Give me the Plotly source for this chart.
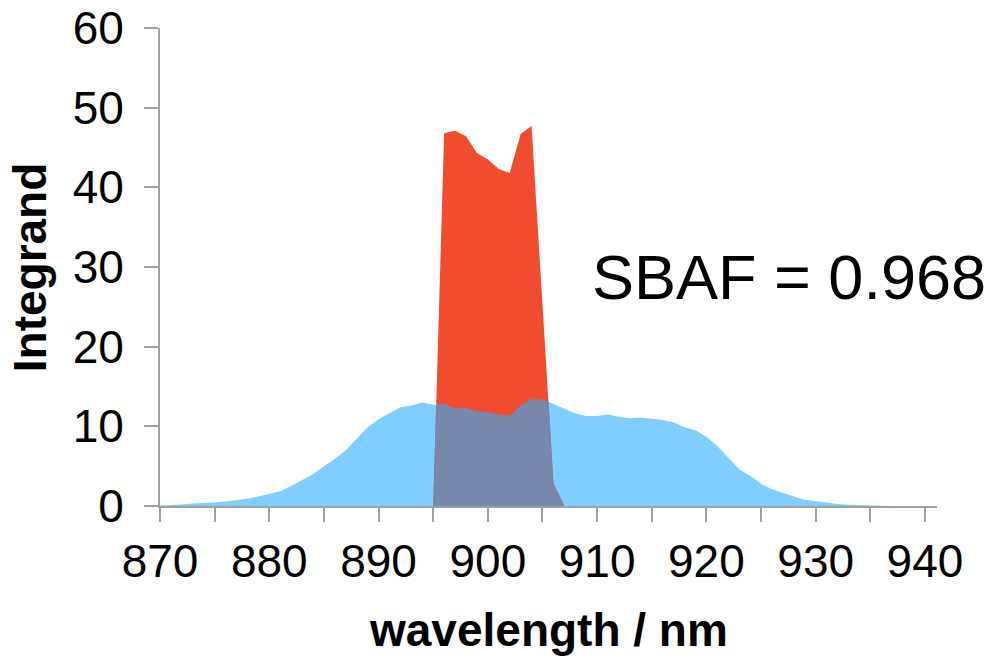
import numpy as np
import plotly.graph_objects as go

# ---------------- data ----------------
wavelength = list(range(870, 941))

blue_integrand = [
    0.05, 0.1, 0.2, 0.3, 0.35, 0.45, 0.55, 0.7, 0.9, 1.2,      # 870-879
    1.5, 1.85, 2.5, 3.2, 4.0, 5.0, 5.9, 7.0, 8.4, 9.9,         # 880-889
    10.9, 11.7, 12.4, 12.6, 13.0, 12.7, 12.8, 12.3, 12.3, 11.9,  # 890-899
    11.8, 11.5, 11.3, 12.6, 13.4, 13.4, 12.8, 12.2, 11.6, 11.3,  # 900-909
    11.3, 11.5, 11.2, 11.0, 11.1, 10.95, 10.8, 10.5, 9.9, 9.5,   # 910-919
    8.7, 7.5, 6.1, 4.6, 3.8, 2.8, 2.1, 1.6, 1.2, 0.8,            # 920-929
    0.6, 0.4, 0.25, 0.15, 0.1, 0.05, 0.02, 0.0, 0.0, 0.0,        # 930-939
    0.0,                                                         # 940
]

red_integrand = [0.0] * 25 + [
    0.0, 46.8, 47.1, 46.4, 44.3, 43.5, 42.3, 41.8, 46.7, 47.7,  # 895-904
    26.0, 2.85, 0.0,                                            # 905-907
] + [0.0] * 33

x_ticks = [870, 880, 890, 900, 910, 920, 930, 940]
y_ticks = [0, 10, 20, 30, 40, 50, 60]
sbaf_text = "SBAF = 0.968"
x_title = "wavelength / nm"
y_title = "Integrand"

# ---------------- overlap (min of two piecewise-linear curves) ----------------
def piecewise_min(x, a, b):
    xs, ys = [], []
    for i in range(len(x)):
        xs.append(x[i]); ys.append(min(a[i], b[i]))
        if i < len(x) - 1:
            d0 = a[i] - b[i]
            d1 = a[i + 1] - b[i + 1]
            if d0 * d1 < 0:
                t = d0 / (d0 - d1)
                xs.append(x[i] + t * (x[i + 1] - x[i]))
                ys.append(a[i] + t * (a[i + 1] - a[i]))
    return xs, ys

ox, oy = piecewise_min(wavelength, blue_integrand, red_integrand)

BLUE = "#7FCEFF"
RED = "#F24C30"
OVER = "#7788AD"
AXIS = "#A0A0A0"
FONT = "Liberation Sans, Arial, sans-serif"

fig = go.Figure()
fig.add_trace(go.Scatter(x=wavelength, y=blue_integrand, mode="lines",
                         line=dict(width=0, color=BLUE), fill="tozeroy",
                         fillcolor=BLUE, hoverinfo="skip", showlegend=False))
fig.add_trace(go.Scatter(x=wavelength, y=red_integrand, mode="lines",
                         line=dict(width=0, color=RED), fill="tozeroy",
                         fillcolor=RED, hoverinfo="skip", showlegend=False))
fig.add_trace(go.Scatter(x=ox, y=oy, mode="lines",
                         line=dict(width=0, color=OVER), fill="tozeroy",
                         fillcolor=OVER, hoverinfo="skip", showlegend=False))

fig.add_annotation(x=927.6, y=28.8, xref="x", yref="y", text=sbaf_text,
                   showarrow=False, font=dict(family=FONT, size=63, color="black"),
                   xanchor="center", yanchor="middle")

# axis titles as annotations for precise placement
fig.add_annotation(x=-0.167, y=0.5, xref="paper", yref="paper",
                   text="<b>" + y_title + "</b>", textangle=-90, showarrow=False,
                   font=dict(family=FONT, size=46, color="black"),
                   xanchor="center", yanchor="middle")
fig.add_annotation(x=0.5, y=-0.259, xref="paper", yref="paper",
                   text="<b>" + x_title + "</b>", showarrow=False,
                   font=dict(family=FONT, size=46, color="black"),
                   xanchor="center", yanchor="middle")

fig.update_layout(
    width=992, height=656,
    margin=dict(l=160, r=55, t=28, b=150),
    paper_bgcolor="white", plot_bgcolor="white",
    font=dict(family=FONT, size=46, color="black"),
    xaxis=dict(
        range=[870, 941.1], showgrid=False, zeroline=False, automargin=False,
        showline=True, linecolor=AXIS, linewidth=2,
        tickmode="array", tickvals=x_ticks, ticktext=[str(v) for v in x_ticks],
        ticks="outside", ticklen=14, tickwidth=2, tickcolor=AXIS,
        minor=dict(dtick=5, tick0=870, ticks="outside", ticklen=14, tickwidth=2,
                   tickcolor=AXIS, showgrid=False),
        tickfont=dict(family=FONT, size=46, color="black"),
    ),
    yaxis=dict(
        range=[0, 60], showgrid=False, zeroline=False, automargin=False,
        showline=True, linecolor=AXIS, linewidth=2,
        tickmode="array", tickvals=y_ticks, ticktext=[str(v) for v in y_ticks],
        ticks="outside", ticklen=14, tickwidth=2, tickcolor=AXIS,
        ticklabelstandoff=11,
        tickfont=dict(family=FONT, size=46, color="black"),
    ),
)

fig.write_html("out.html")
